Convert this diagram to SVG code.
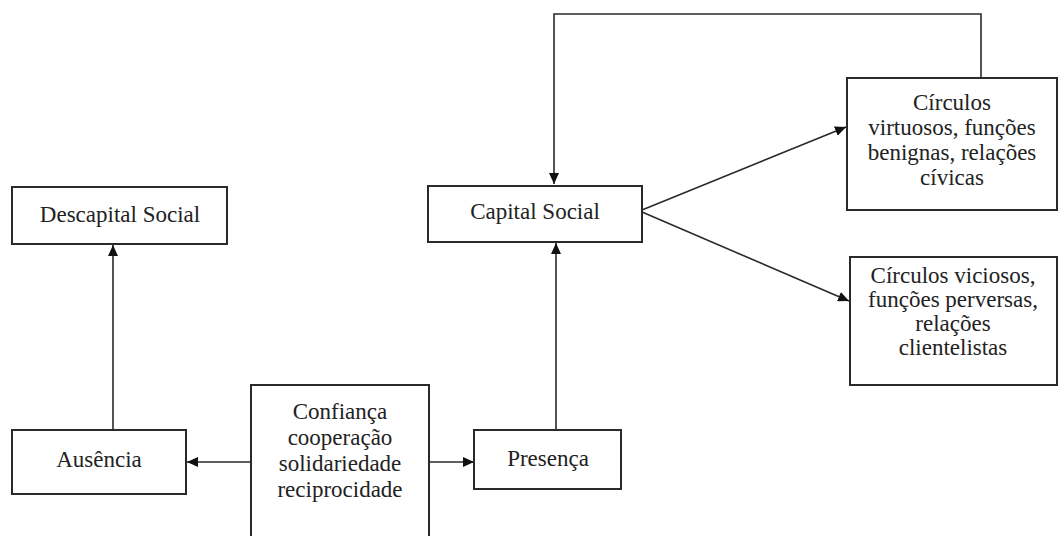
<svg xmlns="http://www.w3.org/2000/svg" width="1059" height="536" viewBox="0 0 1059 536">
<style>
.box{fill:#fff;stroke:#2a2a2a;stroke-width:2}
.lbl{font-family:"Liberation Serif","Times New Roman",serif;font-size:23px;fill:#222;text-anchor:middle}
.con{fill:none;stroke:#2a2a2a;stroke-width:1.6}
</style>
<defs>
<marker id="arr" markerUnits="userSpaceOnUse" markerWidth="12" markerHeight="10" refX="11" refY="5" orient="auto">
<path d="M0,0 L11,5 L0,10 z" fill="#111"/>
</marker>
</defs>
<rect width="1059" height="536" fill="#fff"/>
<g id="connectors">
<line class="con" x1="113" y1="430" x2="113" y2="245" marker-end="url(#arr)"/>
<line class="con" x1="251" y1="462" x2="187" y2="462" marker-end="url(#arr)"/>
<line class="con" x1="414" y1="462" x2="474" y2="462" marker-end="url(#arr)"/>
<line class="con" x1="556" y1="430" x2="556" y2="243" marker-end="url(#arr)"/>
<polyline class="con" points="981,78 981,14 554,14 554,184" marker-end="url(#arr)"/>
<line class="con" x1="642" y1="210" x2="846" y2="127" marker-end="url(#arr)"/>
<line class="con" x1="642" y1="212" x2="849" y2="301" marker-end="url(#arr)"/>
</g>
<g id="descapital">
<rect class="box" x="12" y="187" width="215" height="57"/>
<text class="lbl" x="120" y="222">Descapital Social</text>
</g>
<g id="ausencia">
<rect class="box" x="12" y="430" width="174" height="64"/>
<text class="lbl" x="99" y="467">Ausência</text>
</g>
<g id="confianca">
<rect class="box" x="251" y="385" width="178" height="160"/>
<text class="lbl" x="340" y="419">Confiança</text>
<text class="lbl" x="340" y="445">cooperação</text>
<text class="lbl" x="340" y="471">solidariedade</text>
<text class="lbl" x="340" y="497">reciprocidade</text>
</g>
<g id="presenca">
<rect class="box" x="474" y="430" width="147" height="59"/>
<text class="lbl" x="548" y="466">Presença</text>
</g>
<g id="capital">
<rect class="box" x="428" y="186" width="214" height="56"/>
<text class="lbl" x="535" y="219">Capital Social</text>
</g>
<g id="virtuosos">
<rect class="box" x="847" y="78" width="210" height="132"/>
<text class="lbl" x="952" y="110">Círculos</text>
<text class="lbl" x="952" y="135">virtuosos, funções</text>
<text class="lbl" x="952" y="160">benignas, relações</text>
<text class="lbl" x="952" y="185">cívicas</text>
</g>
<g id="viciosos">
<rect class="box" x="850" y="257" width="207" height="128"/>
<text class="lbl" x="953" y="283">Círculos viciosos,</text>
<text class="lbl" x="953" y="307">funções perversas,</text>
<text class="lbl" x="953" y="331">relações</text>
<text class="lbl" x="953" y="355">clientelistas</text>
</g>
</svg>
